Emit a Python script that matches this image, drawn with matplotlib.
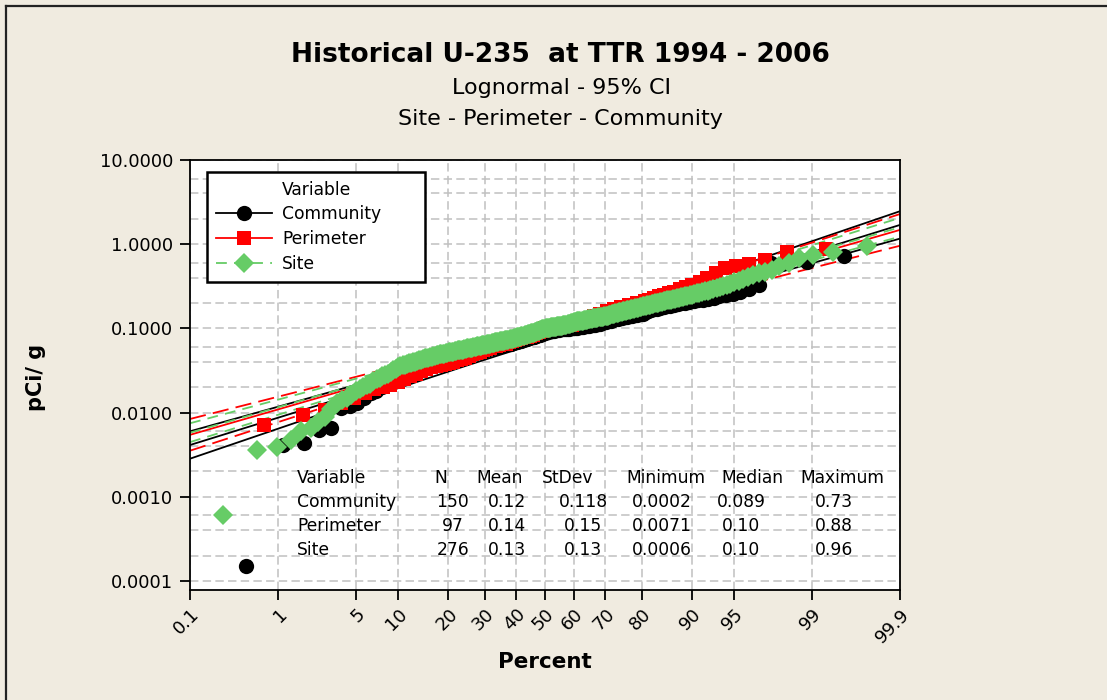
import numpy as np
import matplotlib
matplotlib.use("Agg")
import matplotlib.pyplot as plt
from matplotlib.lines import Line2D
from matplotlib.ticker import FixedLocator, FixedFormatter, LogLocator, NullFormatter, NullLocator
from statistics import NormalDist

# ---------------- data ----------------
community_values = [
    0.00015, 0.0041, 0.0044, 0.0062, 0.0065, 0.0114, 0.012,
    0.013, 0.015, 0.017, 0.018, 0.020, 0.022, 0.024,
    0.025, 0.026, 0.027, 0.029, 0.030, 0.031, 0.032, 0.034, 0.035, 0.036, 0.037,
    0.038, 0.039, 0.040, 0.041, 0.042, 0.043,
    0.044, 0.045, 0.046, 0.047, 0.048, 0.048, 0.049, 0.050, 0.051, 0.052, 0.053, 0.053, 0.054, 0.055, 0.056,
    0.057, 0.058, 0.059, 0.060, 0.060, 0.061, 0.062, 0.063, 0.064, 0.065, 0.065, 0.066, 0.067, 0.068, 0.069,
    0.070, 0.071, 0.073, 0.074, 0.075, 0.076, 0.078, 0.079, 0.080, 0.081, 0.083, 0.084, 0.085, 0.087, 0.091,
    0.092, 0.093, 0.093, 0.094, 0.095, 0.095, 0.096, 0.097, 0.097, 0.098, 0.099, 0.099, 0.100, 0.100, 0.101,
    0.102, 0.103, 0.104, 0.105, 0.106, 0.107, 0.108, 0.109, 0.110, 0.111, 0.112, 0.114, 0.116, 0.118, 0.120,
    0.122, 0.124, 0.126, 0.128, 0.130, 0.132, 0.134, 0.136, 0.138, 0.140, 0.142, 0.144, 0.146, 0.148, 0.150,
    0.155, 0.160, 0.164, 0.168, 0.172, 0.176, 0.180,
    0.183, 0.186, 0.190, 0.194, 0.198, 0.202, 0.206, 0.210,
    0.215, 0.220, 0.226, 0.232, 0.240, 0.247, 0.255, 0.270, 0.290, 0.330,
    0.60, 0.61, 0.62, 0.73,
]

perimeter_values = [
    0.0071, 0.0094, 0.0107, 0.013, 0.015, 0.017, 0.019, 0.020, 0.021, 0.023,
    0.025, 0.027, 0.029, 0.031, 0.033, 0.035,
    0.036, 0.037, 0.038, 0.039, 0.040, 0.042, 0.043,
    0.045, 0.047, 0.049, 0.051, 0.053, 0.055, 0.057, 0.059, 0.061, 0.062, 0.063, 0.065,
    0.066, 0.068, 0.070, 0.072, 0.074, 0.076, 0.078, 0.080, 0.082, 0.084, 0.087, 0.090, 0.094, 0.10,
    0.10, 0.10, 0.10, 0.10, 0.11, 0.11, 0.11, 0.11, 0.11,
    0.12, 0.12, 0.12, 0.13, 0.13, 0.13, 0.14, 0.14, 0.15, 0.15,
    0.16, 0.16, 0.17, 0.17, 0.18, 0.18, 0.19, 0.19,
    0.20, 0.20, 0.21, 0.22, 0.23, 0.24, 0.25, 0.26, 0.27,
    0.29, 0.31, 0.33, 0.36,
    0.40, 0.45, 0.52, 0.55, 0.58, 0.65, 0.80, 0.88,
]

site_values = [
    0.0006, 0.0036, 0.0039, 0.0047, 0.0061, 0.0066, 0.0077, 0.0089, 0.011, 0.013,
    0.014, 0.015, 0.016, 0.018,
    0.019, 0.020, 0.021, 0.022, 0.024, 0.025, 0.026,
    0.027, 0.028, 0.029, 0.030, 0.032, 0.033, 0.035,
    0.036, 0.037, 0.037, 0.038, 0.039, 0.039, 0.040, 0.040, 0.041, 0.042, 0.042, 0.043, 0.044, 0.044, 0.045, 0.046,
    0.046, 0.047, 0.047, 0.048, 0.048, 0.049, 0.049, 0.050, 0.050, 0.051, 0.051, 0.052,
    0.052, 0.053, 0.053, 0.054, 0.054, 0.055, 0.055, 0.055, 0.056, 0.056, 0.057, 0.057, 0.058, 0.058, 0.058,
    0.059, 0.059, 0.060, 0.060, 0.060, 0.061, 0.061, 0.062, 0.062, 0.063, 0.063, 0.064,
    0.064, 0.065, 0.065, 0.066, 0.066, 0.067, 0.067, 0.067, 0.068, 0.068, 0.069, 0.069, 0.070, 0.070, 0.070,
    0.071, 0.071, 0.072, 0.072, 0.073, 0.073, 0.074, 0.074, 0.075, 0.075, 0.076, 0.076, 0.077,
    0.078, 0.079, 0.079, 0.080, 0.081, 0.081, 0.082, 0.083, 0.083, 0.084, 0.085, 0.086, 0.086, 0.087,
    0.088, 0.089, 0.089, 0.090, 0.091, 0.092, 0.093, 0.094, 0.095, 0.096, 0.097, 0.098, 0.099, 0.10,
    0.100, 0.101, 0.102, 0.102, 0.103, 0.103, 0.104, 0.104, 0.105, 0.105, 0.106, 0.106, 0.107, 0.107,
    0.108, 0.108, 0.109, 0.110, 0.110, 0.111, 0.112, 0.113, 0.114, 0.115, 0.116, 0.117, 0.118,
    0.119, 0.120, 0.121, 0.121, 0.122, 0.123, 0.124, 0.124, 0.125, 0.126, 0.127, 0.127, 0.128, 0.129,
    0.130, 0.130, 0.131, 0.132, 0.133, 0.133, 0.134, 0.135, 0.136, 0.136, 0.137, 0.138, 0.139, 0.140,
    0.141, 0.142, 0.144, 0.145, 0.147, 0.148, 0.150, 0.151, 0.153, 0.154, 0.156, 0.157, 0.158, 0.160,
    0.161, 0.163, 0.164, 0.166, 0.167, 0.168, 0.170, 0.171, 0.173, 0.175, 0.176, 0.178, 0.180,
    0.182, 0.184, 0.186, 0.188, 0.190, 0.192, 0.194, 0.196, 0.198, 0.200, 0.202, 0.205, 0.207, 0.210,
    0.212, 0.215, 0.217, 0.220, 0.222, 0.225, 0.228, 0.231, 0.234, 0.237, 0.240, 0.243, 0.246, 0.250,
    0.255, 0.260, 0.265, 0.270, 0.275, 0.280, 0.285, 0.29, 0.30, 0.31, 0.32, 0.33, 0.34, 0.355,
    0.37, 0.39, 0.41, 0.43, 0.45, 0.47, 0.50,
    0.55, 0.60, 0.68, 0.75, 0.80, 0.96,
]

series_names = ["Community", "Perimeter", "Site"]
# fitted lognormal parameters (natural-log location and scale)
fit_location = [-2.483, -2.412, -2.347]
fit_scale = [0.974, 0.907, 0.909]

x_ticks = [0.1, 1, 5, 10, 20, 30, 40, 50, 60, 70, 80, 90, 95, 99, 99.9]
x_tick_labels = ["0.1", "1", "5", "10", "20", "30", "40", "50", "60", "70",
                 "80", "90", "95", "99", "99.9"]
y_ticks = [0.0001, 0.001, 0.01, 0.1, 1, 10]
y_tick_labels = ["0.0001", "0.0010", "0.0100", "0.1000", "1.0000", "10.0000"]

table_header = ["Variable", "N", "Mean", "StDev", "Minimum", "Median", "Maximum"]
community_stats = ["Community", "150", "0.12", "0.118", "0.0002", "0.089", "0.73"]
perimeter_stats = ["Perimeter", "97", "0.14", "0.15", "0.0071", "0.10", "0.88"]
site_stats = ["Site", "276", "0.13", "0.13", "0.0006", "0.10", "0.96"]

assert len(community_values) == 150
assert len(perimeter_values) == 97
assert len(site_values) == 276

# ---------------- probability scale ----------------
_nd = NormalDist()


def _fwd(p):
    p = np.asarray(p, dtype=float)
    q = np.clip(p / 100.0, 1e-12, 1 - 1e-12)
    flat = [(_nd.inv_cdf(v) if v == v else np.nan) for v in q.ravel()]
    return np.array(flat, dtype=float).reshape(q.shape)


def _inv(z):
    z = np.asarray(z, dtype=float)
    flat = [(_nd.cdf(v) * 100.0 if v == v else np.nan) for v in z.ravel()]
    return np.array(flat, dtype=float).reshape(z.shape)


# ---------------- figure ----------------
W, H = 1107, 700
plt.rcParams["font.family"] = ["DejaVu Sans"]
fig = plt.figure(figsize=(W / 100, H / 100), dpi=100)
fig.patch.set_facecolor("#F0EBE0")

ax = fig.add_axes([190 / W, 1 - 590 / H, 710 / W, 430 / H])
ax.set_facecolor("white")
ax.set_xscale("function", functions=(_fwd, _inv))
ax.set_yscale("log")
ax.set_xlim(0.1, 99.9)
ax.set_ylim(7.8e-5, 10)

ax.xaxis.set_major_locator(FixedLocator(x_ticks))
ax.xaxis.set_major_formatter(FixedFormatter(x_tick_labels))
ax.xaxis.set_minor_locator(NullLocator())
ax.yaxis.set_major_locator(FixedLocator(y_ticks))
ax.yaxis.set_major_formatter(FixedFormatter(y_tick_labels))
ax.yaxis.set_minor_locator(LogLocator(base=10, subs=[2, 4, 6]))
ax.yaxis.set_minor_formatter(NullFormatter())

grid_kw = dict(color="#C0C0C0", linestyle=(0, (5.5, 2.8)), linewidth=1.1)
ax.grid(True, which="major", axis="x", **grid_kw)
ax.grid(True, which="both", axis="y", **grid_kw)
ax.set_axisbelow(True)

ax.tick_params(axis="both", which="major", direction="out", length=7, width=1.3,
               labelsize=13, color="black")
ax.tick_params(axis="y", which="minor", length=0)
ax.tick_params(axis="x", pad=4)
ax.tick_params(axis="y", pad=5)
for lab in ax.get_xticklabels():
    lab.set_rotation(45)
    lab.set_ha("right")
    lab.set_va("top")
    lab.set_rotation_mode("anchor")
for sp in ax.spines.values():
    sp.set_color("black")
    sp.set_linewidth(1.3)

colors = ["black", "#FF0000", "#66CC66"]
markers = ["o", "s", "D"]
msizes = [11, 10, 10.5]
values_list = [community_values, perimeter_values, site_values]

# fitted lines and 95% confidence bands
z_line = np.linspace(-3.0902, 3.0902, 241)
p_line = _inv(z_line)
for k, name in enumerate(series_names):
    n = len(values_list[k])
    mu, sig = fit_location[k], fit_scale[k]
    center = mu + z_line * sig
    half = 1.959964 * sig * np.sqrt((1 + z_line ** 2 / 2.0) / n)
    if k == 0:
        fit_ls, ci_ls = "-", "-"
    elif k == 1:
        fit_ls, ci_ls = "-", (0, (9, 4))
    else:
        fit_ls, ci_ls = (0, (6, 4)), (0, (6, 4))
    ax.plot(p_line, np.exp(center), color=colors[k], lw=1.3, ls=fit_ls, zorder=2)
    ax.plot(p_line, np.exp(center + half), color=colors[k], lw=1.3, ls=ci_ls, zorder=2)
    ax.plot(p_line, np.exp(center - half), color=colors[k], lw=1.3, ls=ci_ls, zorder=2)

# data points (median-rank plotting positions)
for k, name in enumerate(series_names):
    vals = np.sort(np.asarray(values_list[k], dtype=float))
    n = len(vals)
    pct = (np.arange(1, n + 1) - 0.3) / (n + 0.4) * 100.0
    ax.plot(pct, vals, linestyle="none", marker=markers[k], ms=msizes[k],
            color=colors[k], markeredgewidth=0, zorder=3 + k)

# legend
handles = [Line2D([], [], color="none", label="Variable")]
line_styles = ["-", "-", (0, (6, 4))]
for k, name in enumerate(series_names):
    handles.append(Line2D([], [], color=colors[k], marker=markers[k], ms=msizes[k],
                          markeredgewidth=0, lw=1.3, ls=line_styles[k], label=name))
leg = ax.legend(handles=handles, loc="upper left",
                bbox_to_anchor=((207 - 190) / 710, (590 - 280) / 430,
                                (425 - 207) / 710, (280 - 172) / 430),
                mode="expand",
                borderaxespad=0, fontsize=12.3, frameon=True, fancybox=False,
                handlelength=3.3, handletextpad=0.6, labelspacing=0.4,
                borderpad=0.5)
leg.get_frame().set_edgecolor("black")
leg.get_frame().set_linewidth(1.8)
leg.get_frame().set_facecolor("white")
leg.get_frame().set_alpha(1)
leg.set_zorder(10)

# statistics table
col_x = [297, 441, 500, 568, 666, 752, 842]
val_x = [297, 453, 507, 583, 662, 741, 834]
row_y = [478, 502, 526, 550]
for j, txt in enumerate(table_header):
    fig.text((col_x[j]) / W, 1 - row_y[0] / H, txt, fontsize=12.3,
             ha="left" if j == 0 else "center", va="center", zorder=11)
for r, row in enumerate([community_stats, perimeter_stats, site_stats]):
    for j, txt in enumerate(row):
        fig.text(val_x[j] / W, 1 - row_y[r + 1] / H, txt, fontsize=12.3,
                 ha="left" if j == 0 else "center", va="center", zorder=11)

# titles and axis labels
fig.text(560 / W, 1 - 55 / H, "Historical U-235  at TTR 1994 - 2006",
         fontsize=19, fontweight="bold", ha="center", va="center")
fig.text(561 / W, 1 - 88 / H, "Lognormal - 95% CI", fontsize=16, ha="center", va="center")
fig.text(560 / W, 1 - 119 / H, "Site - Perimeter - Community", fontsize=16,
         ha="center", va="center")
fig.text(545 / W, 1 - 662 / H, "Percent", fontsize=15.5, fontweight="bold",
         ha="center", va="center")
fig.text(36 / W, 1 - 377 / H, "pCi/ g", fontsize=15, fontweight="bold",
         rotation=90, ha="center", va="center")

# outer frame (top and left edges visible)
fig.add_artist(Line2D([6 / W, 6 / W], [0, 1 - 6 / H], color="#222222", lw=1.6,
                      transform=fig.transFigure))
fig.add_artist(Line2D([6 / W, 1], [1 - 6 / H, 1 - 6 / H], color="#222222", lw=1.6,
                      transform=fig.transFigure))

fig.savefig("out.png", dpi=100, facecolor=fig.get_facecolor())
